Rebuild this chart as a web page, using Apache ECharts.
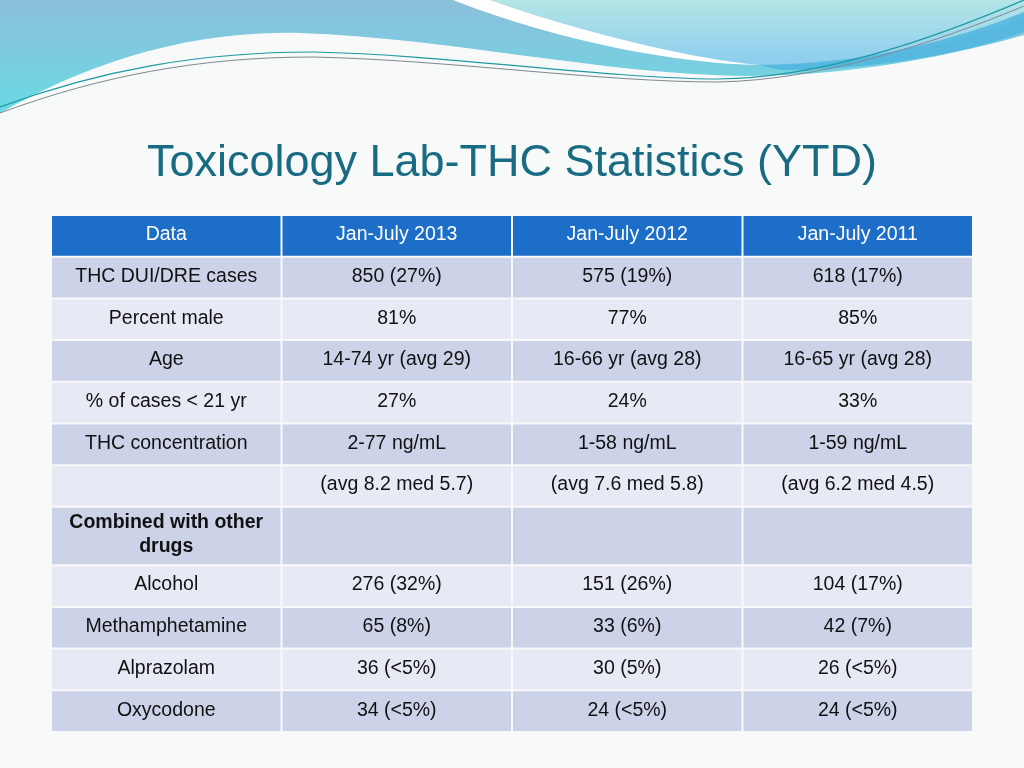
<!DOCTYPE html>
<html>
<head>
<meta charset="utf-8">
<title>Toxicology Lab-THC Statistics (YTD)</title>
<script src="https://cdn.jsdelivr.net/npm/echarts@6/dist/echarts.min.js"></script>
<style>
  html, body { margin: 0; padding: 0; background: #f8f9f9; }
  #chart { width: 1024px; height: 768px; }
</style>
</head>
<body>
<div id="chart"></div>
<script>
// table content
const columns = ["Data", "Jan-July 2013", "Jan-July 2012", "Jan-July 2011"];
const rowLabels = [
  "THC DUI/DRE cases", "Percent male", "Age", "% of cases < 21 yr",
  "THC concentration", "", "Combined with other\ndrugs",
  "Alcohol", "Methamphetamine", "Alprazolam", "Oxycodone"
];
const y2013 = ["850 (27%)", "81%", "14-74 yr (avg 29)", "27%", "2-77 ng/mL",
  "(avg 8.2 med 5.7)", "", "276 (32%)", "65 (8%)", "36 (<5%)", "34 (<5%)"];
const y2012 = ["575 (19%)", "77%", "16-66 yr (avg 28)", "24%", "1-58 ng/mL",
  "(avg 7.6 med 5.8)", "", "151 (26%)", "33 (6%)", "30 (5%)", "24 (<5%)"];
const y2011 = ["618 (17%)", "85%", "16-65 yr (avg 28)", "33%", "1-59 ng/mL",
  "(avg 6.2 med 4.5)", "", "104 (17%)", "42 (7%)", "26 (<5%)", "24 (<5%)"];
const boldRows = ["Combined with other\ndrugs"];

// layout: row heights in units (header first)
const rowUnits = [1].concat(rowLabels.map((l) => (l.indexOf("\n") >= 0 ? 1.4 : 1)));
const rowTop = [];
rowUnits.reduce((acc, h, i) => { rowTop[i] = acc; return acc + h; }, 0);
const totalUnits = rowUnits.reduce((s, h) => s + h, 0);

const cells = [columns].concat(rowLabels.map((l, i) => [l, y2013[i], y2012[i], y2011[i]]));
const cellData = [];
cells.forEach((row, r) => row.forEach((_, c) => cellData.push([c, r])));

const FONT = "Liberation Sans, Arial, Helvetica, sans-serif";

function renderCell(params, api) {
  const c = api.value(0);
  const r = api.value(1);
  const p0 = api.coord([c, rowTop[r]]);
  const p1 = api.coord([c + 1, rowTop[r] + rowUnits[r]]);
  const isHeader = r === 0;
  const fill = isHeader ? "#1d6ec8" : (r % 2 === 1 ? "#ccd3e9" : "#e7eaf5");
  const txt = cells[r][c];
  const bold = !isHeader && c === 0 && boldRows.indexOf(txt) >= 0;
  return {
    type: "group",
    children: [
      {
        type: "rect",
        shape: { x: p0[0] + 1, y: p0[1] + 1, width: p1[0] - p0[0] - 2, height: p1[1] - p0[1] - 2 },
        style: { fill: fill }
      },
      {
        type: "text",
        x: (p0[0] + p1[0]) / 2,
        y: (p0[1] + p1[1]) / 2 - 1,
        style: {
          text: txt,
          fill: isHeader ? "#ffffff" : "#111111",
          font: (bold ? "bold " : "") + "19.5px " + FONT,
          align: "center",
          verticalAlign: "middle",
          lineHeight: 24
        }
      }
    ]
  };
}

// slide decoration (top waves)
function renderWaves() {
  const grad = (a, b) => ({ type: "linear", x: 0, y: 0, x2: 0, y2: 1,
    colorStops: [{ offset: 0, color: a }, { offset: 1, color: b }] });
  return {
    type: "group",
    children: [
      { type: "path", shape: { pathData: "M0,0 L1024,0 L1024,35 C930,62 830,76 745,76 C600,74 450,38 300,33 C180,30 80,68 0,113 Z" },
        style: { fill: grad("#8dbfdb", "#68dae3") } },
      { type: "path", shape: { pathData: "M490,0 C560,25 680,58 760,65 C870,67 960,42 1024,18 L1024,0 Z" },
        style: { fill: grad("#b4e5e6", "#8ccdee") } },
      { type: "path", shape: { pathData: "M760,65 C870,64 960,38 1024,12 L1024,32 C960,55 870,70 780,70 Z" },
        style: { fill: "#4cb3df", opacity: 0.8 } },
      { type: "path", shape: { pathData: "M453,0 L490,0 C560,25 680,58 760,65 C680,64 560,42 453,0 Z" },
        style: { fill: "#ffffff" } },
      { type: "path", shape: { pathData: "M0,107 C100,70 200,52 313,52 C450,55 600,78 718,79 C820,78 930,40 1024,0" },
        style: { fill: null, stroke: "#1d9aa2", lineWidth: 1.2 } },
      { type: "path", shape: { pathData: "M0,113 C100,76 200,57 313,57 C450,60 600,82 718,82 C820,80 930,45 1024,6" },
        style: { fill: null, stroke: "#7d8a90", lineWidth: 1 } }
    ]
  };
}

const chart = echarts.init(document.getElementById("chart"));
chart.setOption({
  backgroundColor: "#f8f9f9",
  animation: false,
  title: {
    text: "Toxicology Lab-THC Statistics (YTD)",
    left: "center",
    top: 136,
    textStyle: { color: "#186b82", fontFamily: FONT, fontSize: 45, fontWeight: "normal" }
  },
  grid: { left: 51, right: 51, top: 215, bottom: 36 },
  xAxis: { type: "value", min: 0, max: columns.length, show: false },
  yAxis: { type: "value", min: 0, max: totalUnits, inverse: true, show: false },
  series: [
    {
      type: "custom",
      coordinateSystem: "none",
      z: 1,
      silent: true,
      renderItem: renderWaves,
      data: [[0]]
    },
    {
      type: "custom",
      z: 10,
      silent: true,
      renderItem: renderCell,
      data: cellData
    }
  ]
});
</script>
</body>
</html>
